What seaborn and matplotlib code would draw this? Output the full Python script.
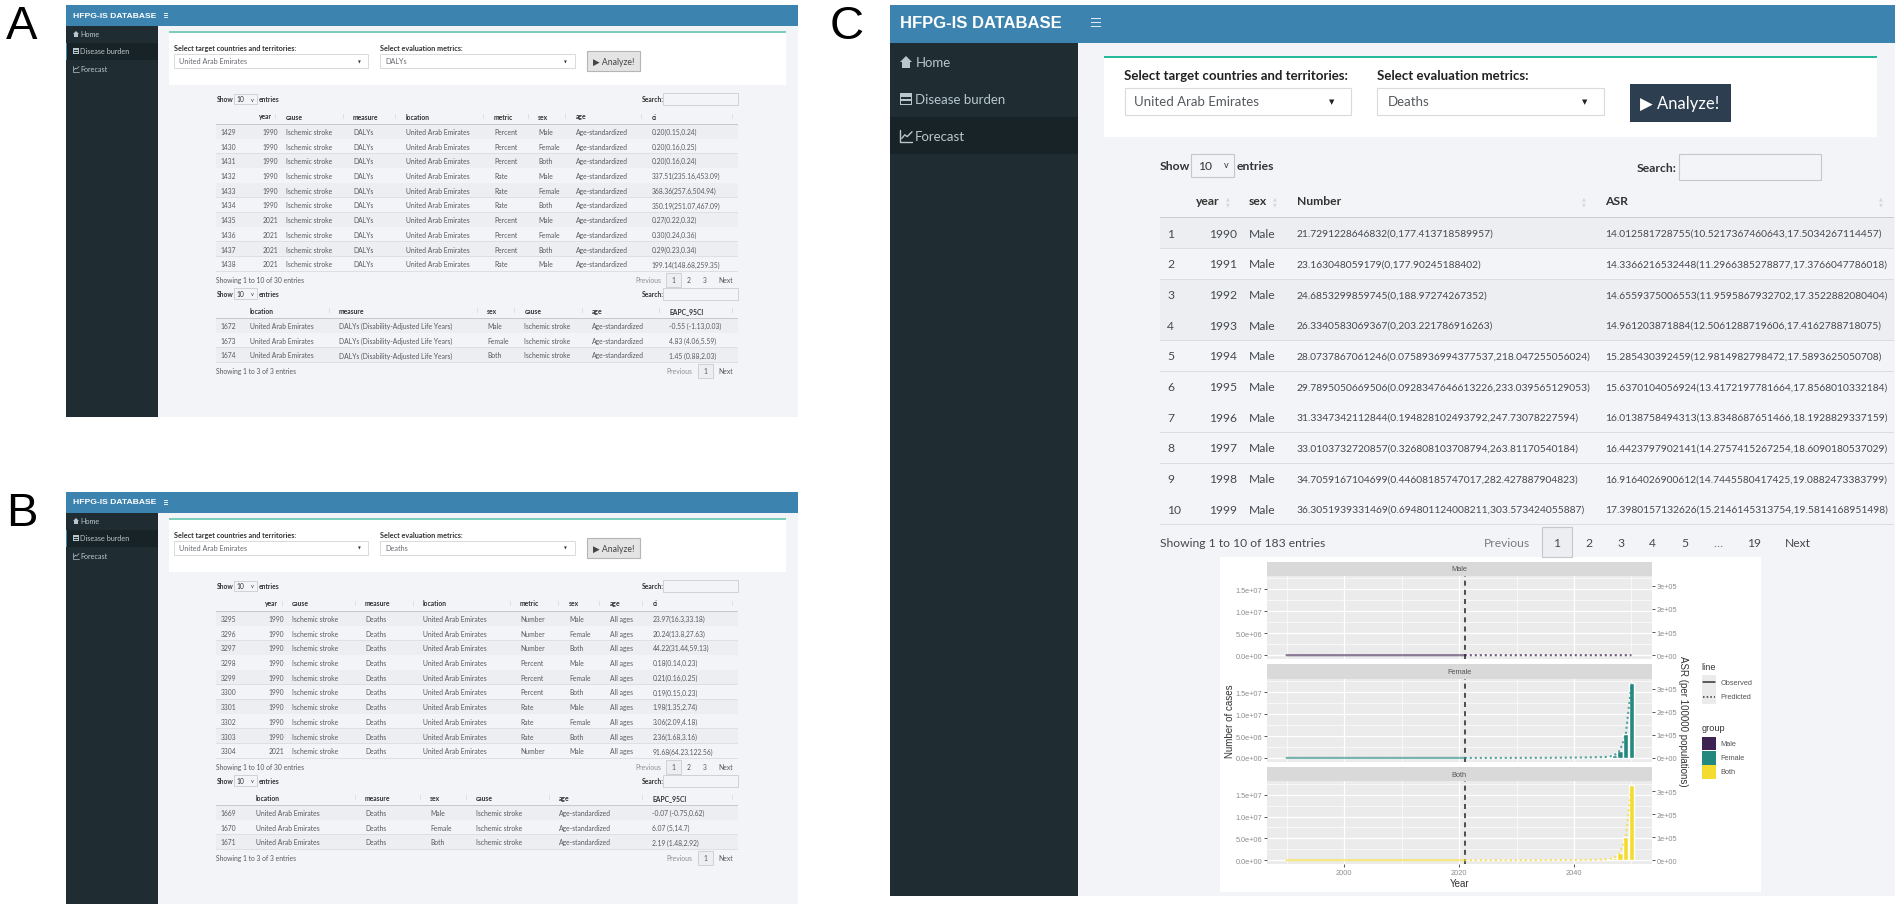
import matplotlib
matplotlib.use("Agg")
import logging
logging.getLogger("matplotlib.font_manager").setLevel(logging.ERROR)
import matplotlib.pyplot as plt
from matplotlib.patches import Rectangle, Polygon
from matplotlib.lines import Line2D
import pandas as pd
import seaborn as sns

W, H = 1902, 912

# ---------- data: chart ----------
years = list(range(1990, 2051))
number_male = [21.7, 23.2, 24.7, 26.3, 28.1, 29.8, 31.3, 33.0, 34.7, 36.3,
               38.2, 40.1, 42.2, 44.5, 46.9, 49.5, 52.3, 55.1, 58.0, 60.9,
               63.8, 66.7, 69.5, 72.3, 74.9, 77.4, 79.8, 82.0, 84.2, 86.6,
               89.0, 91.7, 95, 99, 103, 108, 112, 117, 122, 128,
               134, 140, 146, 153, 160, 167, 175, 183, 192, 201,
               210, 220, 231, 242, 253, 265, 278, 291, 305, 320, 335]
number_female = [20.2, 21.1, 22.0, 23.1, 24.3, 25.6, 26.9, 28.3, 29.8, 31.4,
                 33.0, 34.7, 36.6, 38.5, 40.5, 42.8, 45.2, 47.6, 50.1, 52.8,
                 55.5, 58.4, 61.5, 64.8, 68.2, 72.0, 76.0, 80.0, 84.5, 89.0,
                 94.0, 99.0, 110, 125, 145, 170, 205, 250, 310, 400,
                 540, 700, 900, 1200, 1600, 2100, 2800, 3700, 5000, 6600,
                 8800, 12000, 16000, 25000, 40000, 70000, 200000, 600000, 1700000, 5400000,
                 17200000]
number_both = [44.2, 45.8, 47.5, 49.6, 52.4, 55.4, 58.2, 61.4, 64.5, 67.7,
               71.2, 74.8, 78.8, 83.0, 87.4, 92.3, 97.5, 102.7, 108.1, 113.7,
               119.3, 125.1, 131.0, 137.1, 143.1, 149.4, 155.8, 162.0, 168.7, 175.6,
               183.0, 190.7, 205, 224, 248, 278, 317, 367, 432, 528,
               674, 840, 1050, 1350, 1760, 2270, 2980, 3900, 5200, 6800,
               9000, 12200, 16200, 25200, 40300, 70300, 200300, 600300, 1700300, 5300000,
               17100000]
asr_male = [14.0, 14.3, 14.7, 15.0, 15.3, 15.6, 16.0, 16.4, 16.9, 17.4,
            17.9, 18.4, 18.9, 19.4, 20, 20.5, 21, 21.6, 22, 22.5,
            23, 23.5, 24, 24.5, 25, 25.5, 26, 26.5, 27, 27.5,
            28, 28.5, 29, 29.5, 30, 31, 31.5, 32, 33, 33.5,
            34, 35, 35.5, 36, 37, 38, 38.5, 39, 40, 41,
            42, 43, 44, 45, 46, 47, 48, 49, 50, 51, 52]
asr_female = [25, 25, 26, 27, 27, 28, 29, 30, 30, 31,
              32, 33, 34, 35, 35, 36, 37, 38, 39, 40,
              41, 42, 43, 44, 46, 47, 48, 50, 51, 53,
              55, 57, 60, 65, 72, 80, 90, 105, 125, 150,
              190, 230, 280, 340, 420, 520, 640, 800, 1000, 1250,
              1500, 1800, 2200, 2700, 3200, 3800, 5000, 11000, 32000, 100000,
              322000]
asr_both = [18, 19, 19, 20, 20, 21, 21, 22, 23, 23,
            24, 25, 25, 26, 27, 27, 28, 29, 30, 30,
            31, 32, 33, 34, 35, 36, 37, 38, 39, 40,
            41, 43, 45, 48, 52, 58, 65, 75, 90, 110,
            140, 170, 210, 260, 320, 400, 500, 620, 780, 960,
            1150, 1400, 1700, 2100, 2500, 3000, 4200, 11000, 32000, 100000,
            322000]

sex_panels = ["Male", "Female", "Both"]
x_major = [2000, 2020, 2040]
x_minor = [1990, 2010, 2030, 2050]
y_major = [0, 5e6, 1e7, 1.5e7]
y_major_labels = ["0.0e+00", "5.0e+06", "1.0e+07", "1.5e+07"]
y_minor = [2.5e6, 7.5e6, 1.25e7, 1.75e7]
asr_ticks = [0, 1e5, 2e5, 3e5]
asr_labels = ["0e+00", "1e+05", "2e+05", "3e+05"]
cut_year = 2021

# ---------- data: tables ----------
cause = "Ischemic stroke"
uae = "United Arab Emirates"
a_ids = [1429, 1430, 1431, 1432, 1433, 1434, 1435, 1436, 1437, 1438]
a_years = [1990, 1990, 1990, 1990, 1990, 1990, 2021, 2021, 2021, 2021]
a_metric = ["Percent", "Percent", "Percent", "Rate", "Rate", "Rate", "Percent", "Percent", "Percent", "Rate"]
a_sex = ["Male", "Female", "Both", "Male", "Female", "Both", "Male", "Female", "Both", "Male"]
a_ci = ["0.20(0.15,0.24)", "0.20(0.16,0.25)", "0.20(0.16,0.24)", "337.51(235.16,453.09)",
        "368.36(257.6,504.94)", "350.19(251.07,467.09)", "0.27(0.22,0.32)", "0.30(0.24,0.36)",
        "0.29(0.23,0.34)", "199.14(148.68,259.35)"]
a2_ids = [1672, 1673, 1674]
a2_sex = ["Male", "Female", "Both"]
a2_ci = ["-0.55 (-1.13,0.03)", "4.83 (4.06,5.59)", "1.45 (0.88,2.03)"]
b_ids = [3295, 3296, 3297, 3298, 3299, 3300, 3301, 3302, 3303, 3304]
b_years = [1990, 1990, 1990, 1990, 1990, 1990, 1990, 1990, 1990, 2021]
b_metric = ["Number", "Number", "Number", "Percent", "Percent", "Percent", "Rate", "Rate", "Rate", "Number"]
b_sex = ["Male", "Female", "Both", "Male", "Female", "Both", "Male", "Female", "Both", "Male"]
b_ci = ["23.97(16.3,33.18)", "20.24(13.8,27.63)", "44.22(31.44,59.13)", "0.18(0.14,0.23)",
        "0.21(0.16,0.25)", "0.19(0.15,0.23)", "1.98(1.35,2.74)", "3.06(2.09,4.18)",
        "2.36(1.68,3.16)", "91.68(64.23,122.56)"]
b2_ids = [1669, 1670, 1671]
b2_sex = ["Male", "Female", "Both"]
b2_ci = ["-0.07 (-0.75,0.62)", "6.07 (5,14.7)", "2.19 (1.48,2.92)"]
c_ids = list(range(1, 11))
c_years = list(range(1990, 2000))
c_number = ["21.7291228646832(0,177.413718589957)", "23.163048059179(0,177.90245188402)",
            "24.6853299859745(0,188.97274267352)", "26.3340583069367(0,203.221786916263)",
            "28.0737867061246(0.0758936994377537,218.047255056024)",
            "29.7895050669506(0.0928347646613226,233.039565129053)",
            "31.3347342112844(0.194828102493792,247.73078227594)",
            "33.0103732720857(0.326808103708794,263.81170540184)",
            "34.7059167104699(0.44608185747017,282.427887904823)",
            "36.3051939331469(0.694801124008211,303.573424055887)"]
c_asr = ["14.012581728755(10.5217367460643,17.5034267114457)",
         "14.3366216532448(11.2966385278877,17.3766047786018)",
         "14.6559375006553(11.9595867932702,17.3522882080404)",
         "14.961203871884(12.5061288719606,17.4162788718075)",
         "15.285430392459(12.9814982798472,17.5893625050708)",
         "15.6370104056924(13.4172197781664,17.8568010332184)",
         "16.0138758494313(13.8348687651466,18.1928829337159)",
         "16.4423797902141(14.2757415267254,18.6090180537029)",
         "16.9164026900612(14.7445580417425,19.0882473383799)",
         "17.3980157132626(15.2146145313754,19.5814168951498)"]

# ---------- style ----------
sns.set_style("white")
UI = ["Lato", "DejaVu Sans"]
SANS = ["Liberation Sans", "DejaVu Sans"]
plt.rcParams["font.family"] = SANS
COL_HEAD = "#3c84af"
COL_SIDE = "#1f2d33"
COL_ACTIVE = "#182327"
COL_BG = "#f3f4f8"
COL_TXT = "#4a4f55"
PAL = {"Male": "#3e2352", "Female": "#23897f", "Both": "#f3dc2f"}

fig = plt.figure(figsize=(W / 100, H / 100), dpi=100, facecolor="white")
ov = fig.add_axes([0, 0, 1, 1], zorder=0)
ov.set_xlim(0, W)
ov.set_ylim(H, 0)
ov.axis("off")


def R(x0, y0, x1, y1, fc, ec="none", lw=0, z=1):
    ov.add_patch(Rectangle((x0, y0), x1 - x0, y1 - y0, fc=fc, ec=ec, lw=lw, zorder=z))


def T(x, y, s, size, color=COL_TXT, ha="left", va="center", weight="normal", fam=None, z=5, **kw):
    ov.text(x, y, s, fontsize=size, color=color, ha=ha, va=va, fontweight=weight,
            family=fam or UI, zorder=z, **kw)


def icon_home(x, y, s, c):
    ov.add_patch(Polygon([(x, y), (x + s / 2, y - s / 2), (x + s, y)], fc=c, ec="none", zorder=5))
    R(x + s * .18, y, x + s * .82, y + s * .5, c, z=5)


def icon_table(x, y, s, c):
    R(x, y - s / 2, x + s, y + s / 2, c, z=5)
    for a, b in [(.12, .46), (.54, .88)]:
        for d, e in [(-.2, .02), (.18, .4)]:
            R(x + a * s, y + d * s, x + b * s, y + e * s, COL_SIDE, z=6)


def icon_chart(x, y, s, c, lw=0.8):
    ov.add_line(Line2D([x, x, x + s], [y - s / 2, y + s / 2, y + s / 2], color=c, lw=lw, zorder=5))
    ov.add_line(Line2D([x + .15 * s, x + .4 * s, x + .6 * s, x + s], [y + .2 * s, y - .1 * s, y + .05 * s, y - .35 * s],
                       color=c, lw=lw, zorder=5))


def burger(x, y, w, h):
    for k in (-1, 0, 1):
        R(x, y + k * h / 2 - .5, x + w, y + k * h / 2 + .5, "#dfeaf2", z=5)


def sort_marks(xs, y, h):
    for x in xs:
        R(x - .5, y - h, x + .5, y + h, "#dcdfe4", z=3)


def small_table(top_show, head_y, line_y, rows_y, foot_y, cols, heads, rows, arrows, pages):
    """One DataTable of panels A/B; every row is drawn from the lists above."""
    size = 4.9
    T(216.5, top_show, "Show", size, "#333333", weight="bold")
    R(233.7, top_show - 5.3, 256.6, top_show + 5.3, "#f3f4f8", "#c9ccd1", .6)
    T(236.5, top_show, "10", size, "#333333")
    T(250.5, top_show, "v", 4, "#333333")
    T(259, top_show, "entries", size, "#333333", weight="bold")
    T(641.8, top_show, "Search:", size, "#333333", weight="bold")
    R(663, top_show - 6, 738, top_show + 6, "#f3f4f8", "#c9ccd1", .6)
    for (x, ha), h in zip(cols[1:], heads):
        T(x - 6.5 if ha == "right" else x, head_y, h, size, "#333333", ha=ha, weight="bold")
    sort_marks(arrows, head_y, 2.5)
    R(216, line_y - .6, 738, line_y + .6, "#c5c8cc", z=3)
    step = rows_y[1] - rows_y[0]
    for i, (y, row) in enumerate(zip(rows_y, rows)):
        if i % 2 == 0:
            R(216, y - step / 2, 738, y + step / 2, "#eceef2", z=2)
        R(216, y + step / 2 - .3, 738, y + step / 2 + .3, "#dcdfe3", z=3)
        for (x, ha), v in zip(cols, row):
            T(x, y, str(v), size, "#555a60", ha=ha)
    T(216.5, foot_y, f"Showing 1 to {len(rows)} of {pages[0]} entries", size, "#555a60")
    for x, s in pages[1]:
        if s == "1":
            R(x - 7.5, foot_y - 7, x + 7.5, foot_y + 7, "#eceef1", "#c9ccd1", .6, z=3)
        T(x, foot_y, s, size, "#8a8f95" if s in ("Previous",) else "#555a60", ha="center")


def dashboard(dy, letter, metric):
    T(22, 27 + dy, letter, 34, "black", ha="center", fam=SANS)
    R(66, 6 + dy, 798, 418 + dy, COL_BG)
    R(66, 6 + dy, 798, 26.7 + dy, COL_HEAD)
    R(66, 26.7 + dy, 157.6, 418 + dy, COL_SIDE)
    R(66, 44 + dy, 157.6, 61 + dy, COL_ACTIVE, z=2)
    R(66, 44 + dy, 67, 61 + dy, COL_HEAD, z=3)
    T(73, 16 + dy, "HFPG-IS DATABASE", 6.1, "white", weight="bold", fam=SANS)
    burger(163.5, 16 + dy, 4.5, 4)
    c = "#b8c7ce"
    icon_home(73, 35 + dy, 6, c)
    T(80.5, 34.7 + dy, "Home", 5.2, c)
    icon_table(73, 52 + dy, 6, c)
    T(80, 52 + dy, "Disease burden", 5.2, c)
    icon_chart(73, 69.7 + dy, 6, c, .5)
    T(80, 69.7 + dy, "Forecast", 5.2, c)
    R(169.4, 32 + dy, 785.7, 86 + dy, "white")
    R(169.4, 32 + dy, 785.7, 33.8 + dy, "#7ccdbb", z=2)
    T(173.5, 48.7 + dy, "Select target countries and territories:", 5.2, "#333333", weight="bold")
    T(380, 48.7 + dy, "Select evaluation metrics:", 5.2, "#333333", weight="bold")
    for x0, x1, s in [(173.5, 368, uae), (380, 574.5, metric)]:
        R(x0, 55.3 + dy, x1, 68.7 + dy, "white", "#d8dadd", .7, z=2)
        T(x0 + 5.5, 62 + dy, s, 5.2, "#666a6f")
        T(x1 - 9, 62 + dy, "▼", 2.6, "#333333", ha="center", fam=["DejaVu Sans"])
    R(586.7, 52 + dy, 640, 72 + dy, "#e4e4e4", "#b5b5b5", .8, z=2)
    T(613.3, 62.5 + dy, "▶ Analyze!", 6.2, "#444444", ha="center")


# ---------- panel A ----------
dashboard(0, "A", "DALYs")
rows_y_10 = [132.5, 147.2, 161.8, 176.6, 191.3, 206, 220.8, 235.4, 250.2, 265]
rows_y_3 = [326.7, 341.3, 356]
small_table(100, 117, 125.3, rows_y_10, 281,
            [(220.4, "left"), (278, "right"), (285.7, "left"), (353, "left"), (405.6, "left"),
             (494, "left"), (538, "left"), (575.5, "left"), (651.5, "left")],
            ["year", "cause", "measure", "location", "metric", "sex", "age", "ci"],
            [(i, y, cause, "DALYs", uae, m, s, "Age-standardized", v)
             for i, y, m, s, v in zip(a_ids, a_years, a_metric, a_sex, a_ci)],
            [275.5, 343, 395, 483, 528.5, 565, 641, 732],
            (30, [(648, "Previous"), (673, "1"), (689, "2"), (705, "3"), (726, "Next")]))
small_table(294.7, 311.3, 319.3, rows_y_3, 372,
            [(220.4, "left"), (250, "left"), (338.8, "left"), (487, "left"), (524.5, "left"),
             (592, "left"), (669, "left")],
            ["location", "measure", "sex", "cause", "age", "EAPC_95CI"],
            [(i, uae, "DALYs (Disability-Adjusted Life Years)", s, cause, "Age-standardized", v)
             for i, s, v in zip(a2_ids, a2_sex, a2_ci)],
            [329, 477, 514, 582, 659, 732],
            (3, [(679.6, "Previous"), (705.6, "1"), (726, "Next")]))

# ---------- panel B ----------
DB = 487
dashboard(DB, "B", "Deaths")
small_table(100 + DB, 117 + DB, 125.3 + DB, [y + DB for y in rows_y_10], 281 + DB,
            [(220.4, "left"), (284, "right"), (292, "left"), (365, "left"), (423, "left"),
             (520, "left"), (569, "left"), (610, "left"), (652.5, "left")],
            ["year", "cause", "measure", "location", "metric", "sex", "age", "ci"],
            [(i, y, cause, "Deaths", uae, m, s, "All ages", v)
             for i, y, m, s, v in zip(b_ids, b_years, b_metric, b_sex, b_ci)],
            [282, 355.5, 413, 510, 558.5, 599.5, 642, 732],
            (30, [(648, "Previous"), (673, "1"), (689, "2"), (705, "3"), (726, "Next")]))
small_table(294.7 + DB, 311.3 + DB, 319.3 + DB, [y + DB for y in rows_y_3], 372 + DB,
            [(220.4, "left"), (256, "left"), (365, "left"), (430, "left"), (476, "left"),
             (559, "left"), (652.5, "left")],
            ["location", "measure", "sex", "cause", "age", "EAPC_95CI"],
            [(i, uae, "Deaths", s, cause, "Age-standardized", v)
             for i, s, v in zip(b2_ids, b2_sex, b2_ci)],
            [355.5, 420, 466, 549.5, 642, 732],
            (3, [(679.6, "Previous"), (705.6, "1"), (726, "Next")]))

# ---------- panel C shell ----------
T(847, 27, "C", 34, "black", ha="center", fam=SANS)
R(890.4, 6, 1895, 897, COL_BG)
R(890.4, 6, 1895, 44.3, COL_HEAD)
R(890.4, 44.3, 1078, 897, COL_SIDE)
R(890.4, 118, 1078, 155, COL_ACTIVE, z=2)
T(900, 23.5, "HFPG-IS DATABASE", 12, "white", weight="bold", fam=SANS)
burger(1091, 23.7, 9.5, 8)
c = "#b8c7ce"
icon_home(900, 63, 12, c)
T(916, 63, "Home", 9.5, c)
icon_table(900, 100, 12, c)
T(915, 100, "Disease burden", 9.5, c)
icon_chart(900, 137, 12, c, 1)
T(915, 137, "Forecast", 9.5, c)
R(1103.6, 57.3, 1877, 138, "white")
R(1103.6, 57.3, 1877, 59.2, "#26b99a", z=2)
T(1124.5, 76, "Select target countries and territories:", 9.5, "#222222", weight="bold")
T(1377.4, 76, "Select evaluation metrics:", 9.5, "#222222", weight="bold")
for x0, x1, s in [(1124.5, 1351, uae), (1377.4, 1603.6, "Deaths")]:
    R(x0, 88.7, x1, 116.3, "white", "#d8dadd", .8, z=2)
    T(x0 + 10, 102.5, s, 9.5, "#555a5f")
    T(x1 - 19, 102, "▼", 5, "#222222", ha="center", fam=["DejaVu Sans"])
R(1629.7, 84.7, 1730.7, 123.3, "#2c3e50", z=2)
T(1680, 104, "▶ Analyze!", 12, "white", ha="center")

S = 8.7
S_LONG = 7.4
T(1159.7, 167, "Show", S, "#333333", weight="bold")
R(1191, 155, 1234, 178.3, COL_BG, "#c4c7cc", .8)
T(1198, 167, "10", S, "#333333")
T(1224, 166, "v", 6.5, "#333333")
T(1236.6, 167, "entries", S, "#333333", weight="bold")
T(1637, 168, "Search:", S, "#333333", weight="bold")
R(1678.6, 155, 1821, 180.7, COL_BG, "#c4c7cc", .8)
for x, s in [(1196, "year"), (1249, "sex"), (1296.6, "Number"), (1605, "ASR")]:
    T(x, 202, s, S, "#333333", weight="bold")
for x in [1227.5, 1275, 1584, 1881]:
    T(x, 199, "▲", 3.6, "#d5d8dd", ha="center", fam=["DejaVu Sans"])
    T(x, 205, "▼", 3.6, "#d5d8dd", ha="center", fam=["DejaVu Sans"])
R(1159.7, 217.6, 1894, 219.2, "#c8cbcf", z=3)
c_rows_y = [234.3, 265, 295.7, 326.3, 357, 387.7, 418.3, 449, 479.7, 510.3]
for i, (y, n, yr, num, asr) in enumerate(zip(c_rows_y, c_ids, c_years, c_number, c_asr)):
    if i in (0, 2, 3):
        R(1159.7, y - 15.3, 1894, y + 15.3, "#eceef1", z=2)
    R(1159.7, y + 15, 1894, y + 15.7, "#dadde1", z=3)
    T(1167.4, y, str(n), S, "#444950")
    T(1208.8, y, str(yr), S, "#444950")
    T(1249, y, "Male", S, "#444950")
    T(1296.4, y, num, S_LONG, "#444950")
    T(1605.3, y, asr, S_LONG, "#444950")
T(1159.7, 543.3, "Showing 1 to 10 of 183 entries", S, "#444950")
R(1542, 528, 1572, 557.7, "#eceef1", "#c4c7cc", .8, z=3)
for x, s in [(1506.5, "Previous"), (1556.4, "1"), (1588.8, "2"), (1621, "3"), (1652.7, "4"),
             (1684.6, "5"), (1717.5, "…"), (1754.4, "19"), (1798.3, "Next")]:
    T(x, 544, s, S, "#777c82" if s in ("Previous", "…") else "#444950", ha="center")

# ---------- chart in panel C ----------
R(1220, 558.3, 1761.4, 892.7, "white", z=2)
frame = pd.DataFrame({
    "year": years * 3,
    "sex": [s for s in sex_panels for _ in years],
    "number": number_male + number_female + number_both,
    "asr": asr_male + asr_female + asr_both,
})
panel_boxes = [(562.7, 577, 660), (665.3, 680, 762.7), (768, 782.3, 865)]
PX0, PX1 = 1267, 1651.6
YLIM = (-860000, 1.806e7)
ASR_RATIO = 0.01894


def to_fig(x0, y0, x1, y1):
    return [x0 / W, 1 - y1 / H, (x1 - x0) / W, (y1 - y0) / H]


GREY = "#8c8c8c"
for k, (sex, (st, top, bot)) in enumerate(zip(sex_panels, panel_boxes)):
    R(PX0, st, PX1, top, "#d9d9d9", z=3)
    T((PX0 + PX1) / 2, (st + top) / 2, sex, 5.3, "#555555", ha="center", fam=SANS)
    ax = fig.add_axes(to_fig(PX0, top, PX1, bot), zorder=2)
    ax.set_facecolor("#ebebeb")
    d = frame[frame["sex"] == sex]
    sns.barplot(data=d, x="year", y="number", native_scale=True, color=PAL[sex], saturation=1,
                width=0.92, errorbar=None, ax=ax, zorder=2)
    ax.axvline(cut_year, color="#333333", lw=1.2, ls=(0, (3, 2.5)), zorder=4)
    ax.set_xlim(1986.6, 2053.5)
    ax.set_ylim(*YLIM)
    ax.set_xticks(x_major)
    ax.set_xticks(x_minor, minor=True)
    ax.set_yticks(y_major)
    ax.set_yticks(y_minor, minor=True)
    ax.set_yticklabels(y_major_labels)
    ax.set_axisbelow(True)
    ax.grid(True, which="major", color="white", lw=.9)
    ax.grid(True, which="minor", color="white", lw=.45)
    for sp in ax.spines.values():
        sp.set_visible(False)
    ax.tick_params(axis="y", which="major", length=2, width=.7, color="#555555", labelsize=5.3,
                   labelcolor=GREY, pad=1.5)
    ax.tick_params(which="minor", length=0)
    ax.set_xlabel("")
    ax.set_ylabel("")
    if k == 2:
        ax.tick_params(axis="x", which="major", length=2, width=.7, color="#555555", labelsize=5.3,
                       labelcolor=GREY, pad=1.5, bottom=True)
        ax.set_xlabel("Year", fontsize=7, color="#333333", labelpad=1.5)
    else:
        ax.tick_params(axis="x", which="major", length=0, labelbottom=False)
    if k == 1:
        ax.set_ylabel("Number of cases", fontsize=7, color="#333333", labelpad=0.5)

    tw = ax.twinx()
    tw.set_zorder(ax.get_zorder() + 1)
    sns.lineplot(data=d[d["year"] <= cut_year], x="year", y="asr", color=PAL[sex], alpha=.6, lw=1.6,
                 errorbar=None, ax=tw, legend=False)
    sns.lineplot(data=d[d["year"] >= cut_year], x="year", y="asr", color=PAL[sex], alpha=.75, lw=1.5,
                 ls=(0, (1, 1.4)), errorbar=None, ax=tw, legend=False)
    tw.set_xlim(1986.6, 2053.5)
    tw.set_ylim(YLIM[0] * ASR_RATIO, YLIM[1] * ASR_RATIO)
    tw.set_yticks(asr_ticks)
    tw.set_yticklabels(asr_labels)
    tw.grid(False)
    tw.set_xlabel("")
    tw.set_ylabel("")
    for sp in tw.spines.values():
        sp.set_visible(False)
    tw.tick_params(axis="y", which="major", right=True, length=2, width=.7, color="#555555", labelsize=5.3,
                   labelcolor=GREY, pad=1.5)
    if k == 1:
        tw.set_ylabel("ASR (per 100000 populations)", fontsize=7, color="#333333", rotation=270,
                      labelpad=1, va="bottom")

# legend of the ggplot chart
T(1701.5, 667.3, "line", 6.6, "#333333", fam=SANS)
R(1701.7, 676.3, 1715.7, 704.7, "#ebebeb", z=3)
ov.add_line(Line2D([1703, 1714.5], [683.3, 683.3], color="#333333", lw=1.1, zorder=5))
ov.add_line(Line2D([1703, 1714.5], [697.7, 697.7], color="#333333", lw=1.1, ls=(0, (1, 1.4)), zorder=5))
T(1720.3, 683.5, "Observed", 5.3, "#555555", fam=SANS)
T(1720.3, 697.7, "Predicted", 5.3, "#555555", fam=SANS)
T(1701.5, 728.3, "group", 6.6, "#333333", fam=SANS)
for sex, (y0, y1) in zip(sex_panels, [(737.7, 751.4), (752, 765.6), (766, 780)]):
    R(1701.7, y0, 1715.7, y1, PAL[sex], z=3)
    T(1720.3, (y0 + y1) / 2, sex, 5.3, "#555555", fam=SANS)

fig.savefig("out.png", dpi=100, facecolor="white")
